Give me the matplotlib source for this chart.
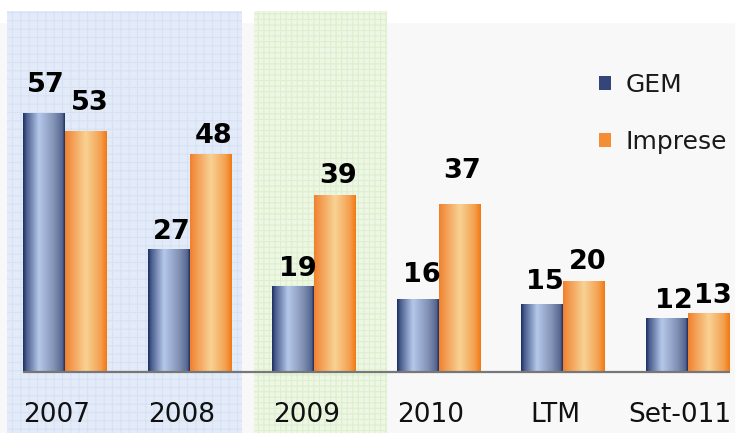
import numpy as np
import matplotlib
matplotlib.use('Agg')
import matplotlib.pyplot as plt
from matplotlib.colors import LinearSegmentedColormap
from matplotlib.patches import Patch

# data
categories = ['2007', '2008', '2009', '2010', 'LTM', 'Set-011']
gem = [57, 27, 19, 16, 15, 12]
imprese = [53, 48, 39, 37, 20, 13]

# label nudges (pixels): the original labels were placed by hand
gem_lift = [21, 10, 10, 17, 15, 10]
imp_lift = [21, 11, 12, 26, 12, 10]
gem_shift = [1.5, 3, 4.5, 4, 2.5, 6.5]
imp_shift = [3.5, 2.5, 3, 2.5, 3.5, 3.5]

# pixel geometry of the original
W, H = 735, 433
px_group = 124.6      # px between group centres
px_unit = 4.54        # px per value unit
x0_px, base_px = 65, 372
bar_w = 42 / px_group

gem_cmap = LinearSegmentedColormap.from_list(
    'gem', [(0.0, '#1b2d62'), (0.08, '#4a5d8c'), (0.38, '#b5c8ea'),
            (0.75, '#8090b4'), (0.94, '#56678f'), (1.0, '#1b2d62')])
imp_cmap = LinearSegmentedColormap.from_list(
    'imp', [(0.0, '#f0802c'), (0.15, '#f39a50'), (0.5, '#f8d293'),
            (0.85, '#f4a050'), (1.0, '#f27810')])

fig = plt.figure(figsize=(W / 100, H / 100), dpi=100)
fig.patch.set_facecolor('#f8f8f8')
ax = fig.add_axes([0, 0, 1, 1])
ax.set_xlim(-x0_px / px_group, (W - x0_px) / px_group)
ax.set_ylim(-(H - base_px) / px_unit, base_px / px_unit)
ax.axis('off')


def to_y(px):
    return (base_px - px) / px_unit


def to_x(px):
    return (px - x0_px) / px_group


# white strip on top, then the two shaded bands
ax.axhspan(to_y(22), to_y(0), color='white', zorder=0)
plt.rcParams['hatch.linewidth'] = 0.8
ax.fill_between([to_x(7), to_x(242)], to_y(433), to_y(11),
                facecolor='#e4ebf8', edgecolor='#d6e1f5', hatch='++',
                linewidth=0, zorder=0.5)
ax.fill_between([to_x(254), to_x(387)], to_y(433), to_y(11),
                facecolor='#eef7e6', edgecolor='#ddefcc', hatch='+++',
                linewidth=0, zorder=0.5)

x = np.arange(len(categories))
grad = np.linspace(0, 1, 256).reshape(1, -1)


def gradient_bars(bars, cmap):
    for b in bars:
        bx, by = b.get_x(), b.get_y()
        bw, bh = b.get_width(), b.get_height()
        im = ax.imshow(grad, cmap=cmap, aspect='auto', zorder=2,
                       extent=(bx, bx + bw, by, by + bh), interpolation='bilinear')
        im.set_clip_path(b)
        b.set_facecolor('none')


b1 = ax.bar(x - bar_w / 2, gem, bar_w, color='#5d6f9a', zorder=2, linewidth=0)
b2 = ax.bar(x + bar_w / 2, imprese, bar_w, color='#f5a050', zorder=2, linewidth=0)
gradient_bars(b1, gem_cmap)
gradient_bars(b2, imp_cmap)
ax.set_xlim(-x0_px / px_group, (W - x0_px) / px_group)
ax.set_ylim(-(H - base_px) / px_unit, base_px / px_unit)

# baseline
ax.hlines(0, x[0] - bar_w, x[-1] + bar_w, color='#777777', lw=1.6, zorder=3)

# value labels
for i in range(len(categories)):
    ax.annotate(str(gem[i]), (x[i] - bar_w / 2, gem[i]),
                xytext=(gem_shift[i], gem_lift[i]), textcoords='offset pixels',
                ha='center', va='baseline', fontsize=19.5, fontweight='bold',
                color='black', zorder=4)
    ax.annotate(str(imprese[i]), (x[i] + bar_w / 2, imprese[i]),
                xytext=(imp_shift[i], imp_lift[i]), textcoords='offset pixels',
                ha='center', va='baseline', fontsize=19.5, fontweight='bold',
                color='black', zorder=4)
    # category labels
    ax.annotate(categories[i], (x[i], 0), xytext=(-8, -50),
                textcoords='offset pixels', ha='center', va='baseline',
                fontsize=19, color='#111111', zorder=4)

handles = [Patch(facecolor='#33457a', edgecolor='none', label='GEM'),
           Patch(facecolor='#f58d35', edgecolor='none', label='Imprese')]
ax.legend(handles=handles, loc='upper left', bbox_to_anchor=(599 / W, 1 - 73 / H),
          frameon=False, fontsize=18, handlelength=0.47, handleheight=0.47,
          handletextpad=0.6, labelspacing=1.32, borderaxespad=0, borderpad=0,
          labelcolor='#1a1a1a')

fig.savefig('out.png', dpi=100, facecolor=fig.get_facecolor())
